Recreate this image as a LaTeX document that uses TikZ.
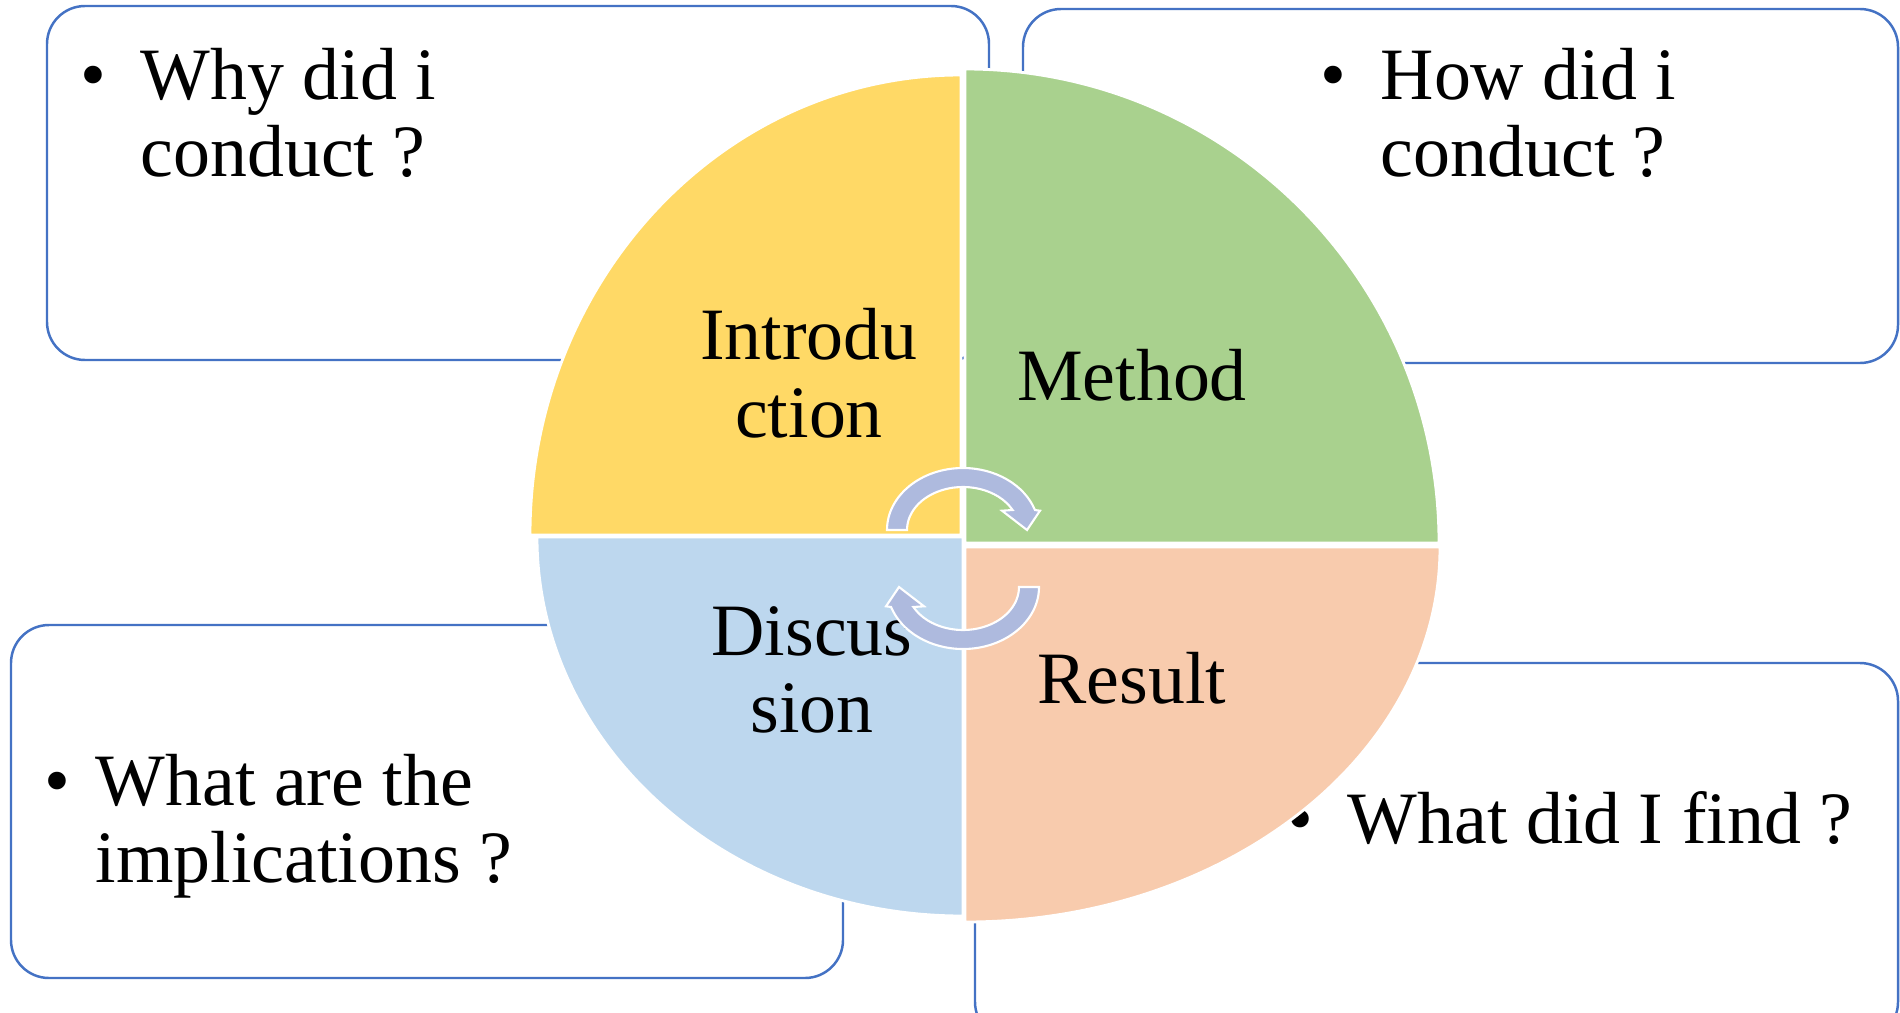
\documentclass[tikz,border=0pt]{standalone}
\usepackage{fontspec}
\setmainfont{Liberation Serif}
\definecolor{cY}{HTML}{FFD966}
\definecolor{cG}{HTML}{A9D18E}
\definecolor{cP}{HTML}{F8CBAD}
\definecolor{cB}{HTML}{BDD7EE}
\definecolor{cLine}{HTML}{4472C4}
\definecolor{cArr}{RGB}{174,186,222}
\tikzset{
  qbox/.style={draw=cLine, line width=0.7pt, fill=white, rounded corners=0.38cm},
  txt/.style={anchor=base west, inner sep=0pt, font=\fontsize{21}{22}\selectfont},
  bul/.style={anchor=base, inner sep=0pt, font=\fontsize{21}{22}\selectfont},
  lbl/.style={anchor=base, inner sep=0pt, font=\fontsize{21}{22}\selectfont},
  quad/.style={draw=white, line width=0.8pt},
  arr/.style={fill=cArr, draw=white, line width=0.6pt, line join=miter}
}
\begin{document}
\begin{tikzpicture}[x=0.01cm, y=-0.01cm]
\useasboundingbox (0,0) rectangle (1900,1012);
\fill[white] (0,0) rectangle (1900,1012);

% question boxes
\draw[qbox] (47,6) rectangle (989,360);
\draw[qbox] (1023,9) rectangle (1898,363);
\draw[qbox] (11,625) rectangle (843,978);
\draw[qbox] (975,663) rectangle (1898,1040);

% box texts
\node[bul] (b1) at (93,99) {•};
\node[txt] (t1a) at (140,99) {Why did i};
\node[txt] (t1b) at (140,176) {conduct ?};
\node[bul] (b2) at (1333,99) {•};
\node[txt] (t2a) at (1380,99) {How did i};
\node[txt] (t2b) at (1380,176) {conduct ?};
\node[bul] (b3) at (57,805) {•};
\node[txt] (t3a) at (95,805) {What are the};
\node[txt] (t3b) at (95,882) {implications ?};
\node[bul] (b4) at (1300,843) {•};
\node[txt] (t4a) at (1347,843) {What did I find ?};

% pie quadrants
\filldraw[quad, fill=cY] (961,535) -- (530,535) arc[start angle=180, end angle=270, x radius=431, y radius=460] -- cycle;
\filldraw[quad, fill=cG] (965,543) -- (965,69) arc[start angle=270, end angle=360, x radius=474, y radius=474] -- cycle;
\filldraw[quad, fill=cP] (965,547) -- (1440,547) arc[start angle=0, end angle=90, x radius=475, y radius=375] -- cycle;
\filldraw[quad, fill=cB] (963,537) -- (963,916) arc[start angle=90, end angle=180, x radius=426, y radius=379] -- cycle;

% quadrant labels
\node[lbl] (intro1) at (809,359) {Introdu};
\node[lbl] (intro2) at (809,437) {ction};
\node[lbl] (meth) at (1132,400) {Method};
\node[lbl] (disc1) at (812,655) {Discus};
\node[lbl] (disc2) at (812,732) {sion};
\node[lbl] (res) at (1132,703) {Result};

% circular arrows
\begin{scope}[shift={(963,530)}]
\filldraw[arr] (-76,0) arc[start angle=180, end angle=341.2, x radius=76, y radius=62]
  -- (77,-19.3) -- (64,0) -- (39,-19.3) -- (49.6,-20)
  arc[start angle=332.3, end angle=180, x radius=56, y radius=43] -- cycle;
\end{scope}
\begin{scope}[shift={(963,587)}, rotate=180]
\filldraw[arr] (-76,0) arc[start angle=180, end angle=341.2, x radius=76, y radius=62]
  -- (77,-19.3) -- (64,0) -- (39,-19.3) -- (49.6,-20)
  arc[start angle=332.3, end angle=180, x radius=56, y radius=43] -- cycle;
\end{scope}
\end{tikzpicture}
\end{document}
